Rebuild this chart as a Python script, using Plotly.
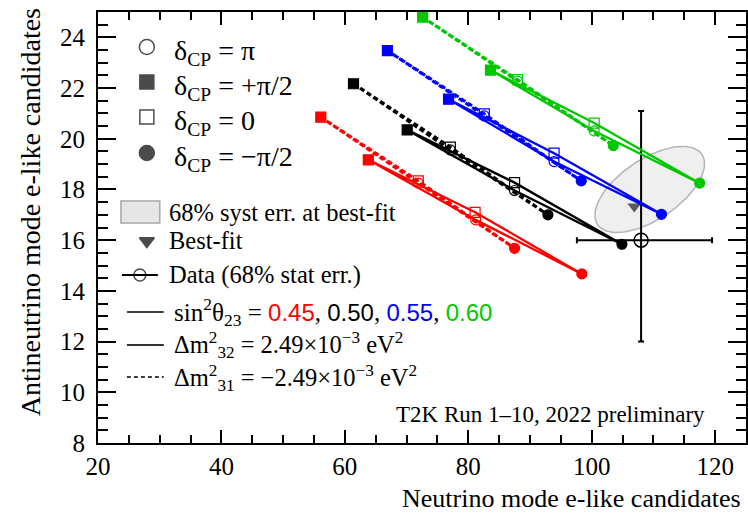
import numpy as np
import plotly.graph_objects as go

# ---------------- data ----------------
sin2_theta23 = ["0.45", "0.50", "0.55", "0.60"]
line_colors = ["#ff0000", "#000000", "#0000ff", "#00c800"]
delta_cp = ["+π/2", "0", "−π/2", "π"]          # order of points along each loop
delta_symbols = ["square", "square-open", "circle", "circle-open"]

# normal ordering (solid): neutrino-mode / antineutrino-mode e-like candidates
no_nu = [
    [63.8, 81.1, 98.4, 81.2],
    [70.1, 87.5, 104.9, 87.5],
    [76.8, 93.9, 111.3, 93.9],
    [83.6, 100.4, 117.5, 100.4],
]
no_nubar = [
    [19.17, 17.10, 14.67, 16.80],
    [20.35, 18.27, 15.84, 17.96],
    [21.56, 19.43, 17.02, 19.10],
    [22.71, 20.62, 18.25, 20.31],
]
# inverted ordering (dashed)
io_nu = [
    [56.1, 71.9, 87.5, 71.9],
    [61.4, 77.1, 92.9, 77.1],
    [66.9, 82.6, 98.3, 82.6],
    [72.6, 88.0, 103.5, 88.0],
]
io_nubar = [
    [20.85, 18.34, 15.68, 18.25],
    [22.17, 19.67, 17.00, 19.56],
    [23.48, 20.98, 18.34, 20.90],
    [24.80, 22.33, 19.73, 22.27],
]

data_nu = [108]
data_nubar = [16]
data_nu_err_hi = [11.5]
data_nu_err_lo = [10.4]
data_nubar_err_hi = [5.1]
data_nubar_err_lo = [4.0]

bestfit_nu = [106.9]
bestfit_nubar = [17.33]

syst_center = [109.4, 18.0]
syst_major = [8.47, 1.38]
syst_minor = [-2.69, 0.99]

# ---------------- layout constants ----------------
FONT = "Liberation Serif"
SANS = "Liberation Sans"
W, H = 748, 514
L, R, T, B = 98, 0, 12, 71
PX0, PX1 = L, W - R
PY0, PY1 = H - B, T   # bottom, top in pixels

fig = go.Figure()

# systematic error region
t = np.linspace(0, 2 * np.pi, 181)
ex = syst_center[0] + syst_major[0] * np.cos(t) + syst_minor[0] * np.sin(t)
ey = syst_center[1] + syst_major[1] * np.cos(t) + syst_minor[1] * np.sin(t)
fig.add_trace(go.Scatter(x=ex, y=ey, mode="lines", fill="toself",
                         fillcolor="#efefef", line=dict(color="#b5b5b5", width=1.5),
                         hoverinfo="skip"))

# best fit
fig.add_trace(go.Scatter(x=bestfit_nu, y=bestfit_nubar, mode="markers",
                         marker=dict(symbol="triangle-down", size=12, color="#5a5a5a")))

# data with stat errors
fig.add_trace(go.Scatter(
    x=data_nu, y=data_nubar, mode="markers",
    marker=dict(symbol="circle-open", size=14, color="black", line=dict(width=1.5)),
    error_x=dict(type="data", symmetric=False, array=data_nu_err_hi,
                 arrayminus=data_nu_err_lo, color="black", thickness=2, width=3),
    error_y=dict(type="data", symmetric=False, array=data_nubar_err_hi,
                 arrayminus=data_nubar_err_lo, color="black", thickness=2, width=3),
))

def add_loop(xs, ys, color, dash):
    fig.add_trace(go.Scatter(x=xs + xs[:1], y=ys + ys[:1], mode="lines",
                             line=dict(color=color, width=2.3 if dash == "solid" else 3, dash=dash),
                             hoverinfo="skip"))
    fig.add_trace(go.Scatter(x=xs, y=ys, mode="markers", text=delta_cp,
                             marker=dict(symbol=delta_symbols, size=10, color=color,
                                         line=dict(color=color, width=1.2))))

for i in range(len(sin2_theta23)):
    add_loop(io_nu[i], io_nubar[i], line_colors[i], "5px,3px")
for i in range(len(sin2_theta23)):
    add_loop(no_nu[i], no_nubar[i], line_colors[i], "solid")

# ---------------- legend (pixel-space overlay axes) ----------------
leg_x = [147, 147, 147, 147, 147, 140]
leg_y = [47, 82, 117, 153, 241, 275]
leg_sym = ["circle-open", "square", "square-open", "circle", "triangle-down", "circle-open"]
leg_size = [15, 14, 14, 15, 13, 12]
fig.add_trace(go.Scatter(x=leg_x, y=leg_y, xaxis="x2", yaxis="y2", mode="markers",
                         marker=dict(symbol=leg_sym, size=leg_size, color="black",
                                     line=dict(color="black", width=1.5)),
                         hoverinfo="skip"))

shapes = [
    dict(type="rect", xref="x2", yref="y2", x0=121, x1=160, y0=201, y1=223,
         fillcolor="#e6e6e6", line=dict(color="#a8a8a8", width=1.5), layer="below"),
    dict(type="line", xref="x2", yref="y2", x0=122, x1=158, y0=275, y1=275,
         line=dict(color="black", width=2)),
    dict(type="line", xref="x2", yref="y2", x0=127, x1=164, y0=312, y1=312,
         line=dict(color="black", width=1.3)),
    dict(type="line", xref="x2", yref="y2", x0=127, x1=164, y0=345, y1=345,
         line=dict(color="#333333", width=2)),
    dict(type="line", xref="x2", yref="y2", x0=127, x1=164, y0=377, y1=377,
         line=dict(color="black", width=1.3, dash="4px,3px")),
]

def ann(text, x, y, size, xanchor="left"):
    return dict(text=text, x=x, y=y, xref="x2", yref="y2", xanchor=xanchor,
                yanchor="middle", showarrow=False,
                font=dict(family=FONT, size=size, color="black"))

def num(v, c):
    return f"<span style='color:{c};font-family:{SANS};font-size:24px'>{v}</span>"

sin2_text = "sin<sup>2</sup>θ<sub>23</sub> = " + ", ".join(
    num(v, c) for v, c in zip(sin2_theta23, line_colors))

annotations = [
    ann("δ<sub>CP</sub> = π", 172, 52, 28),
    ann("δ<sub>CP</sub> = +π/2", 172, 87, 28),
    ann("δ<sub>CP</sub> = 0", 172, 122, 28),
    ann("δ<sub>CP</sub> = −π/2", 172, 158, 28),
    ann("68% syst err. at best-fit", 167, 212, 24.5),
    ann("Best-fit", 167, 240, 24.5),
    ann("Data (68% stat err.)", 167, 275, 24.5),
    ann(sin2_text, 172, 312, 25),
    ann("Δm<sup>2</sup><sub>32</sub> = 2.49×10<sup>−3</sup> eV<sup>2</sup>", 172, 345, 24.5),
    ann("Δm<sup>2</sup><sub>31</sub> = −2.49×10<sup>−3</sup> eV<sup>2</sup>", 172, 378, 24.5),
    ann("T2K Run 1–10, 2022 preliminary", 709, 414, 23, xanchor="right"),
    dict(text="Neutrino mode e-like candidates", x=(745 - PX0) / (PX1 - PX0),
         y=(PY0 - 499) / (PY0 - PY1),
         xref="paper", yref="paper", xanchor="right", yanchor="middle", showarrow=False,
         font=dict(family=FONT, size=26, color="black")),
    dict(text="Antineutrino mode e-like candidates", x=(30 - PX0) / (PX1 - PX0),
         y=(PY0 - 212) / (PY0 - PY1), textangle=-90,
         xref="paper", yref="paper", xanchor="center", yanchor="middle", showarrow=False,
         font=dict(family=FONT, size=28, color="black")),
]

axis_common = dict(showgrid=False, zeroline=False, ticks="inside", tickcolor="black",
                   tickwidth=1.5, showline=True, linecolor="black", linewidth=2,
                   mirror="ticks", tickfont=dict(family=FONT, size=25, color="black"))

fig.update_layout(
    width=W, height=H,
    margin=dict(l=L, r=R, t=T, b=B, pad=0),
    paper_bgcolor="white", plot_bgcolor="white",
    showlegend=False,
    font=dict(family=FONT, color="black"),
    xaxis=dict(range=[20, 125], tick0=0, dtick=20, ticklen=13,
               minor=dict(dtick=5, tick0=0, ticks="inside", ticklen=8, tickwidth=1.5,
                          tickcolor="black"), **axis_common),
    yaxis=dict(range=[8, 25], tick0=0, dtick=2, ticklen=18, ticklabelstandoff=6,
               minor=dict(dtick=0.5, tick0=0, ticks="inside", ticklen=10, tickwidth=1.5,
                          tickcolor="black"), **axis_common),
    xaxis2=dict(overlaying="x", range=[PX0, PX1], visible=False, anchor="y2"),
    yaxis2=dict(overlaying="y", range=[PY0, PY1], visible=False, anchor="x2"),
    shapes=shapes,
    annotations=annotations,
)

fig.write_html("out.html")
